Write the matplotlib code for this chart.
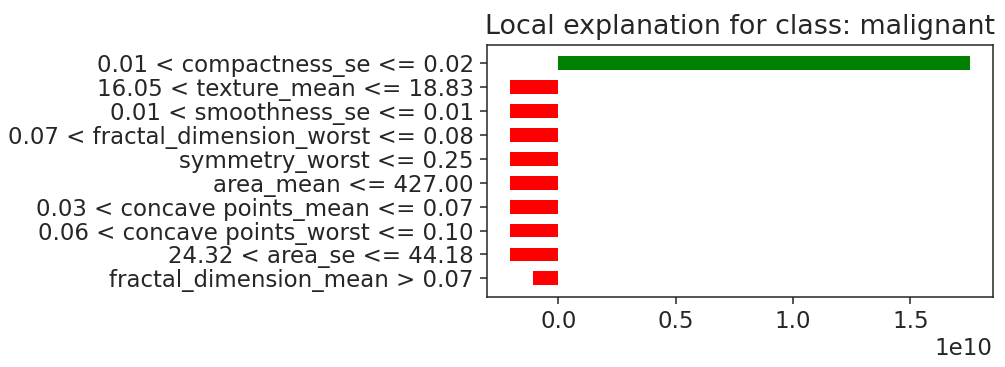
import matplotlib
matplotlib.use("Agg")
from matplotlib import pyplot as plt
from matplotlib.ticker import MultipleLocator
import numpy as np

# top to bottom, as shown in the chart
labels = ["0.01 < compactness_se <= 0.02",
          "16.05 < texture_mean <= 18.83",
          "0.01 < smoothness_se <= 0.01",
          "0.07 < fractal_dimension_worst <= 0.08",
          "symmetry_worst <= 0.25",
          "area_mean <= 427.00",
          "0.03 < concave points_mean <= 0.07",
          "0.06 < concave points_worst <= 0.10",
          "24.32 < area_se <= 44.18",
          "fractal_dimension_mean > 0.07"]
weights = [1.753e10, -0.205e10, -0.205e10, -0.205e10, -0.205e10,
           -0.205e10, -0.205e10, -0.205e10, -0.205e10, -0.108e10]

vals = weights[::-1]
names = labels[::-1]
colors = ["green" if v > 0 else "red" for v in vals]
pos = np.arange(len(vals))

text_col = "#262626"
plt.rcParams["text.color"] = text_col
plt.rcParams["xtick.color"] = text_col
plt.rcParams["ytick.color"] = text_col

fig = plt.figure(figsize=(10.05, 3.67), dpi=100)
ax = fig.add_axes([0.4849, 0.1916, 0.5029, 0.6858])
ax.barh(pos, vals, height=0.58, align="center", color=colors)
ax.set_yticks(pos)
ax.set_yticklabels(names, fontsize=16.5)
ax.xaxis.set_major_locator(MultipleLocator(0.5e10))
ax.tick_params(axis="x", labelsize=16.5)
ax.tick_params(length=4.8, width=1.1, pad=4.8)
for sp in ax.spines.values():
    sp.set_linewidth(1.1)
    sp.set_color(text_col)
ax.xaxis.get_offset_text().set_fontsize(16.5)
ax.set_title("Local explanation for class: malignant", fontsize=19.4, pad=8)

fig.savefig("out.png", dpi=100)
